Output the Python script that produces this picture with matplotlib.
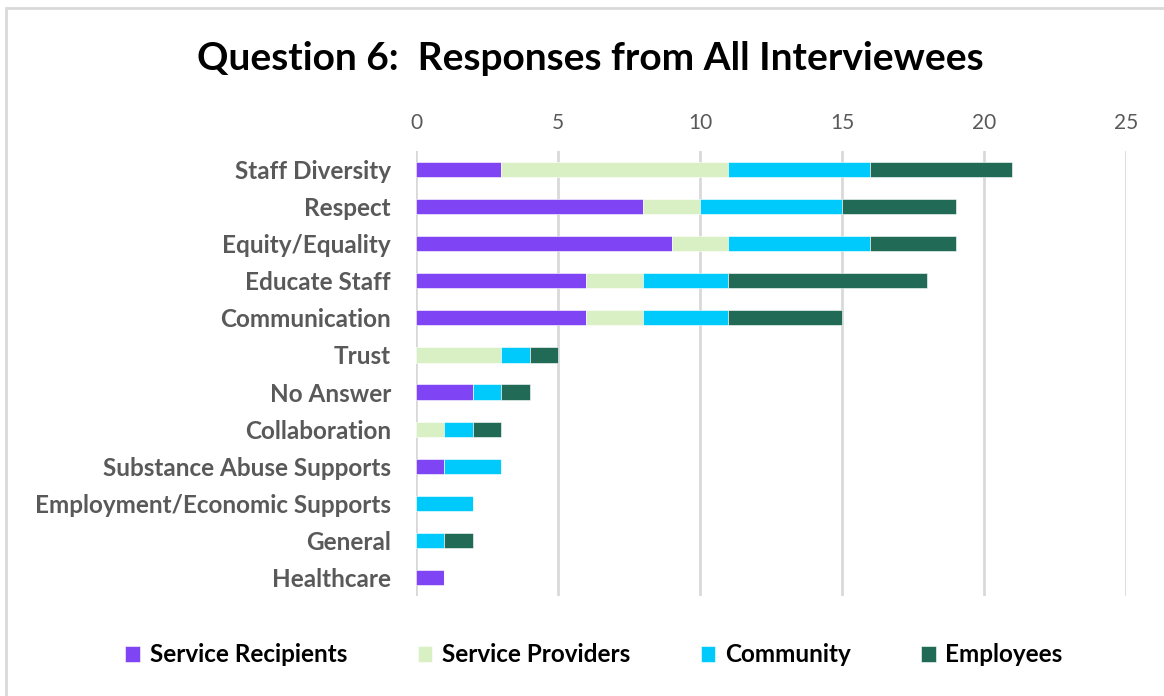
import matplotlib
matplotlib.use("Agg")
import matplotlib.pyplot as plt
from matplotlib.patches import Rectangle
import numpy as np

categories = ["Staff Diversity", "Respect", "Equity/Equality", "Educate Staff",
              "Communication", "Trust", "No Answer", "Collaboration",
              "Substance Abuse Supports", "Employment/Economic Supports",
              "General", "Healthcare"]
service_recipients = [3, 8, 9, 6, 6, 0, 2, 0, 1, 0, 0, 1]
service_providers = [8, 2, 2, 2, 2, 3, 0, 1, 0, 0, 0, 0]
community = [5, 5, 5, 3, 3, 1, 1, 1, 2, 2, 1, 0]
employees = [5, 4, 3, 7, 4, 1, 1, 1, 0, 0, 1, 0]
series_names = ["Service Recipients", "Service Providers", "Community", "Employees"]
x_ticks = [0, 5, 10, 15, 20, 25]

colors = ["#7F45F5", "#D9F0C4", "#00CAFC", "#216B56"]
font = "Lato"

fig = plt.figure(figsize=(11.64, 6.96), dpi=100)
W, H = 1164, 696
ax = fig.add_axes([416 / W, 1 - 596 / H, (1126 - 416) / W, (596 - 151) / H])

y = np.arange(len(categories))
left = np.zeros(len(categories))
for vals, name, c in zip([service_recipients, service_providers, community, employees],
                         series_names, colors):
    ax.barh(y, vals, left=left, height=0.41, color=c, label=name,
            edgecolor="white", linewidth=0.4, zorder=3)
    left += np.array(vals)

ax.set_ylim(len(categories) - 0.5, -0.5)
ax.set_xlim(0, 25)
ax.set_xticks(x_ticks)
ax.xaxis.tick_top()
ax.tick_params(axis="x", length=0, pad=13, labelsize=15, labelcolor="#595959")
ax.tick_params(axis="y", length=0, pad=18)
ax.set_yticks(y)
ax.set_yticklabels(categories, fontsize=17.5, fontweight="bold", color="#595959",
                   family=font)
for lab in ax.get_xticklabels():
    lab.set_family(font)
ax.grid(axis="x", color="#D9D9D9", linewidth=2, zorder=0)
for s in ax.spines.values():
    s.set_visible(False)

fig.text(590 / W, 1 - 58 / H, "Question 6:  Responses from All Interviewees",
         ha="center", va="center", fontsize=28, fontweight="bold", color="black",
         family=font)

handles, labels = ax.get_legend_handles_labels()
fig.legend(handles, labels, loc="center", bbox_to_anchor=(594 / W, 1 - 655 / H),
           ncol=4, frameon=False, prop={"family": font, "weight": "bold", "size": 17.5},
           handlelength=0.6, handleheight=0.6, handletextpad=0.4, columnspacing=2.9)

fig.patches.append(Rectangle((6 / W, -0.1), 1.2, 1 - 8 / H + 0.1,
                             transform=fig.transFigure, fill=False,
                             edgecolor="#D9D9D9", linewidth=2))

fig.savefig("out.png", dpi=100)
